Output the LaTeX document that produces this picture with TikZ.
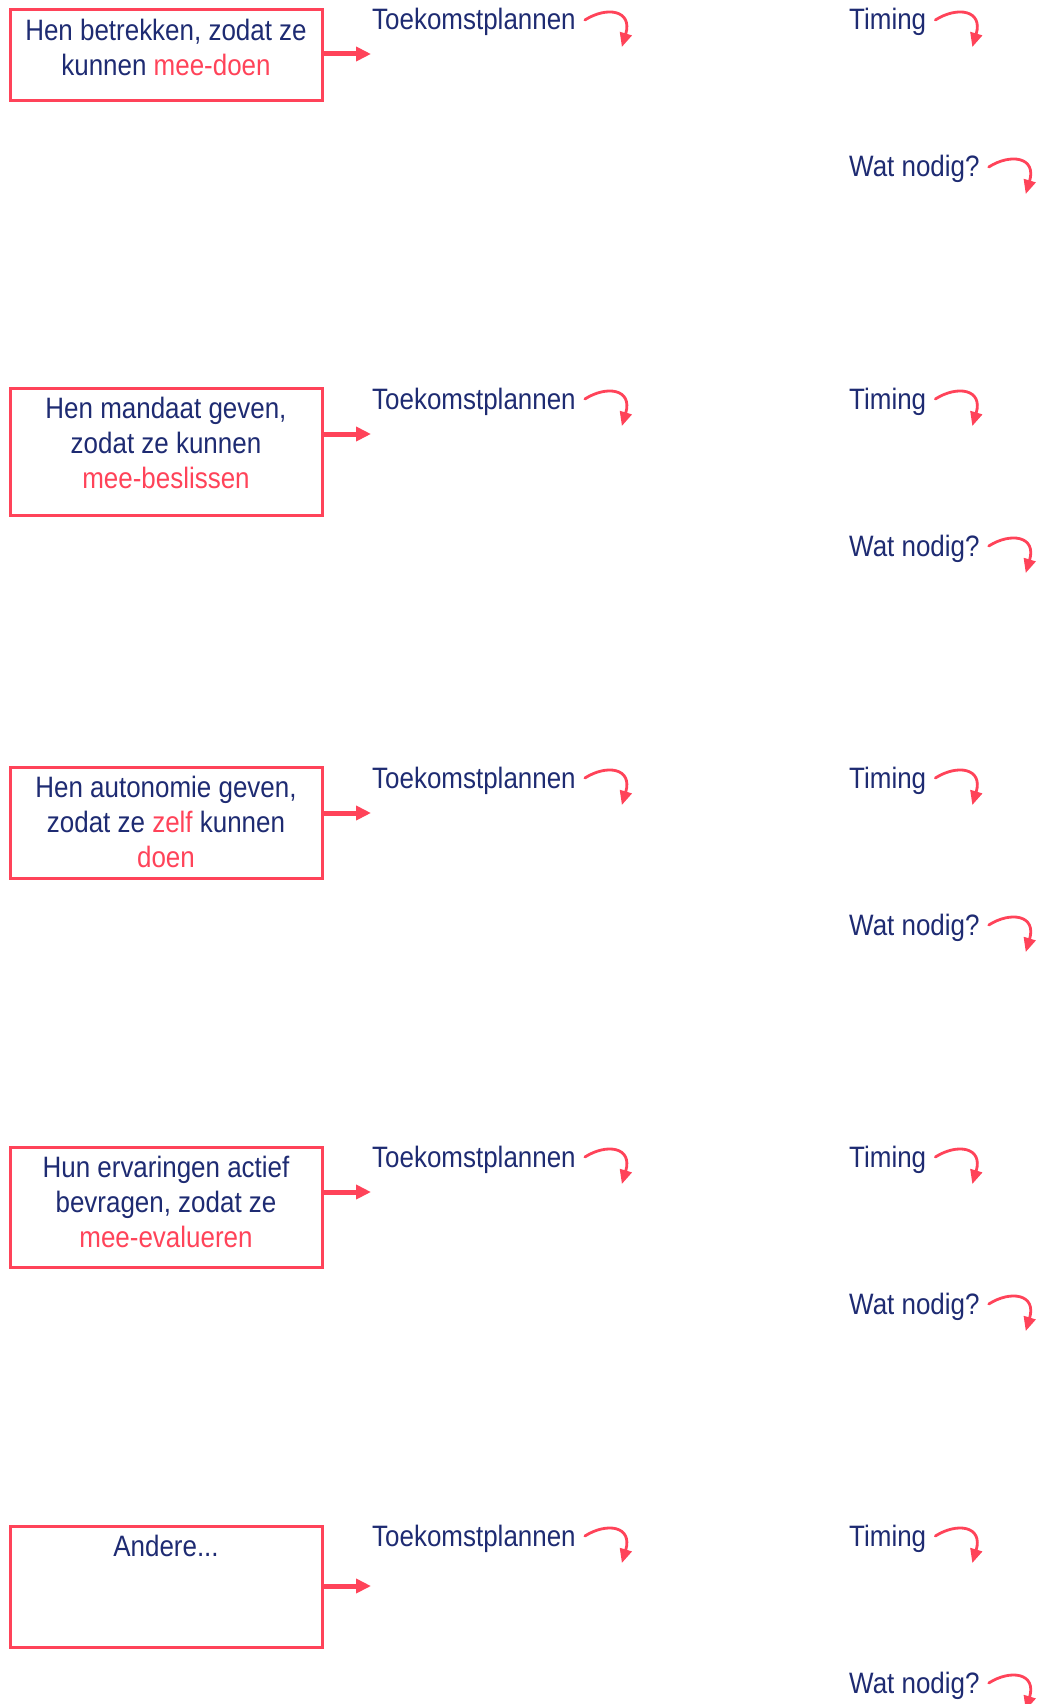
\documentclass[tikz,border=0pt]{standalone}
\usepackage{fontspec}
\setmainfont{Liberation Sans}[FakeStretch=0.88]
\usetikzlibrary{arrows.meta}
\definecolor{navy}{HTML}{1E2B72}
\definecolor{hred}{HTML}{FF4359}
\tikzset{
  x=1pt, y=-1pt,
  txt/.style={text=navy, font=\fontsize{29.5}{35}\selectfont, inner sep=0pt},
  boxnode/.style={draw=hred, line width=3pt, minimum width=312pt, inner sep=0pt},
  boxtxt/.style={txt, align=center, anchor=north},
  bigarrow/.style={draw=hred, line width=5pt, -{Triangle[length=15pt,width=14pt]}},
  curl/.style={draw=hred, line width=2.8pt, line cap=round, -{Triangle[length=14pt,width=12pt]}},
  lbl/.style={txt, anchor=base west},
  curlyarrow/.pic={\draw[curl] (0,0) .. controls (22,-14) and (48,-10) .. (37,27);},
}
\newcommand{\hr}[1]{\textcolor{hred}{#1}}
\begin{document}
\begin{tikzpicture}
\useasboundingbox (0,0) rectangle (1039,1704);
% boxes
\node[boxnode, minimum height=91pt] (b1) at (166,55.5) {};
\node[boxnode, minimum height=127pt] (b2) at (166,451.5) {};
\node[boxnode, minimum height=111pt] (b3) at (166,822.5) {};
\node[boxnode, minimum height=120pt] (b4) at (166,1207) {};
\node[boxnode, minimum height=121pt] (b5) at (166,1586.5) {};
\node[boxtxt] (b1t) at ([yshift=-10pt]b1.north) {Hen betrekken, zodat ze\\kunnen \hr{mee-doen}};
\node[boxtxt] (b2t) at ([yshift=-10pt]b2.north) {Hen mandaat geven,\\zodat ze kunnen\\\hr{mee-beslissen}};
\node[boxtxt] (b3t) at ([yshift=-10pt]b3.north) {Hen autonomie geven,\\zodat ze \hr{zelf} kunnen\\\hr{doen}};
\node[boxtxt] (b4t) at ([yshift=-10pt]b4.north) {Hun ervaringen actief\\bevragen, zodat ze\\\hr{mee-evalueren}};
\node[boxtxt] (b5t) at ([yshift=-10pt]b5.north) {Andere...};
% arrow targets
\coordinate (a1) at (371,54);
\coordinate (a2) at (371,434);
\coordinate (a3) at (371,813);
\coordinate (a4) at (371,1192);
\coordinate (a5) at (371,1586);
\foreach \i in {1,...,5} {
  \draw[bigarrow] (b\i.east |- a\i) -- (a\i);
}
% labels and curly arrows
\foreach \i/\dy in {1/0,2/379,3/758,4/1137,5/1516} {
  \node[lbl] (tp\i) at (372,30+\dy) {Toekomstplannen};
  \node[lbl] (ti\i) at (849,30+\dy) {Timing};
  \node[lbl] (wn\i) at (849,177+\dy) {Wat nodig?};
  \pic at ([xshift=9pt,yshift=10pt]tp\i.base east) {curlyarrow};
  \pic at ([xshift=9pt,yshift=10pt]ti\i.base east) {curlyarrow};
  \pic at ([xshift=9pt,yshift=10pt]wn\i.base east) {curlyarrow};
}
\end{tikzpicture}
\end{document}
